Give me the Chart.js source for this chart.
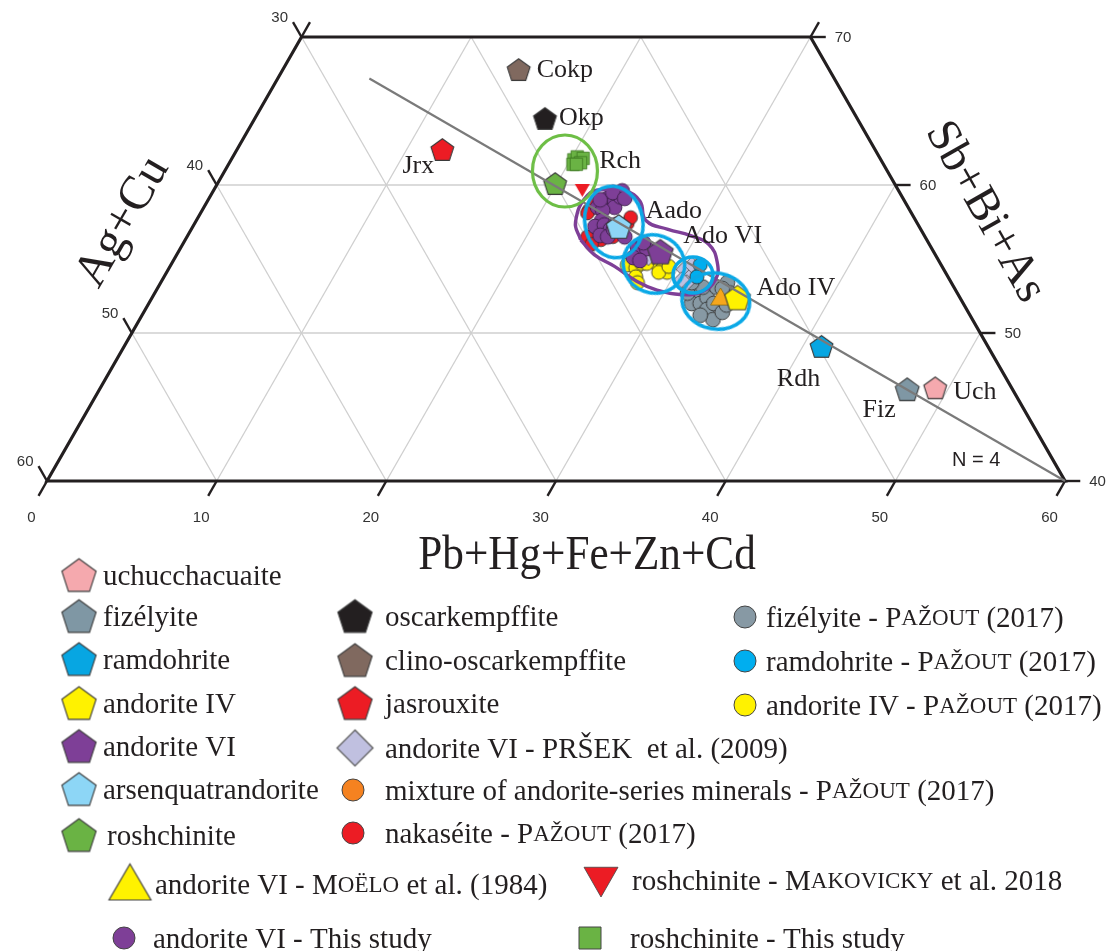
<!DOCTYPE html>
<html><head><meta charset="utf-8">
<script src="https://cdn.jsdelivr.net/npm/chart.js@4.4.1/dist/chart.umd.min.js"></script>
<style>html,body{margin:0;padding:0;background:#fff;}canvas{display:block;}</style>
</head><body>
<canvas id="c" width="1118" height="951"></canvas>
<script>
// ---- DATA: ternary points as [Pb+Hg+Fe+Zn+Cd, Sb+Bi+As]; Ag+Cu = 100 - both ----
const bottomTicks = [0, 10, 20, 30, 40, 50, 60];   // Pb+Hg+Fe+Zn+Cd
const leftTicks   = [30, 40, 50, 60];               // Ag+Cu
const rightTicks  = [70, 60, 50, 40];               // Sb+Bi+As
const gridC = [10, 20, 30, 40, 50];
const gridA = [10, 20, 30, 40, 50];
const gridB = [50, 60];

const uchucchacuaite      = [[49.2, 46.3]];
const fizelyite           = [[47.6, 46.2]];
const ramdohrite          = [[41.1, 49.1]];
const andoriteIV          = [[34.5, 52.4]];
const andoriteVI          = [[28.4, 55.5]];
const arsenquatrandorite  = [[25.1, 57.2]];
const roshchinite         = [[19.9, 60.1]];
const oscarkempffite      = [[17.1, 64.5]];
const clinoOscarkempffite = [[13.9, 67.8]];
const jasrouxite          = [[12.1, 62.4]];

const andoriteVI_Prsek = [[27.9, 55.1], [30.4, 54.3], [31.0, 53.8], [31.0, 53.4], [30.7, 54.6], [30.6, 53.6]];
const mixture_Pazout = [];
const nakaseite_Pazout = [[22.8, 58.3], [23.0, 58.7], [23.6, 56.5], [24.5, 56.3], [25.1, 56.5], [25.5, 57.4], [25.5, 57.8], [22.8, 58.1], [24.1, 56.0]];
const fizelyite_Pazout = [[32.0, 52.7], [32.0, 52.0], [32.5, 52.0], [32.7, 52.4], [33.1, 51.6], [33.3, 52.0], [32.9, 53.1], [33.4, 53.4], [33.9, 52.7], [33.8, 50.9], [32.9, 51.2], [34.1, 51.4], [31.4, 52.7], [33.3, 53.0], [34.1, 51.9], [32.1, 53.1], [31.3, 53.4]];
const ramdohrite_Pazout = [[31.2, 54.6], [31.4, 53.8]];
const andoriteIV_Pazout = [[26.9, 54.6], [27.5, 54.4], [27.7, 54.7], [27.8, 53.8], [28.1, 53.4], [28.7, 54.6], [29.1, 54.4], [29.5, 54.1], [29.0, 54.1], [29.4, 54.5], [28.0, 54.7]];
const andoriteVI_Moelo = [[33.5, 52.4]];
const roshchinite_Makovicky = [[21.7, 59.7]];
const andoriteVI_thisStudy = [[23.2, 58.5], [23.5, 59.1], [24.0, 58.9], [24.2, 58.5], [23.6, 58.3], [23.9, 57.6], [23.7, 57.2], [24.2, 57.3], [24.7, 57.0], [24.3, 56.6], [24.8, 56.5], [24.9, 57.0], [25.8, 56.5], [26.9, 55.8], [27.2, 55.4], [27.5, 55.7], [27.0, 55.1], [27.5, 54.9], [27.1, 56.1], [24.2, 59.2], [23.1, 59.0], [24.1, 59.6], [23.6, 59.5], [24.5, 59.1], [24.8, 57.3]];
const roshchinite_thisStudy = [[20.2, 61.7], [20.3, 61.9], [20.7, 61.8], [20.7, 61.5], [20.3, 61.4], [20.5, 61.4]];

const trendLine = [[5.4, 67.2], [60, 40]];
const greenField = [[20.05, 60.95]];
const blueFields = [[24.66, 57.5], [28.44, 54.66], [31.11, 53.92], [33.34, 52.16]];
const purpleField = [[23.3, 56.3], [22.4, 57.5], [22.2, 59.3], [23.0, 59.7], [24.3, 59.6], [25.5, 58.9], [26.5, 57.6], [28.1, 57.0], [29.6, 56.6], [31.0, 56.0], [32.1, 54.8], [32.6, 53.6], [32.2, 52.8], [31.0, 52.6], [29.5, 52.9], [28.0, 53.5], [26.2, 54.5], [24.6, 55.3], [23.3, 56.3]];

// ---- helpers ----
const T = ([c, b]) => ({ x: c + (b - 40) / 2, y: b - 40 });
const SERIF = '"Liberation Serif", "Times New Roman", serif';
const SANS = '"Liberation Sans", Arial, sans-serif';

function mk(shape, r, fill, stroke = '#3a3a3a', lw = 1.1) {
  const s = Math.ceil(2 * r + 2 * lw + 6);
  const cv = document.createElement('canvas'); cv.width = s; cv.height = s;
  const g = cv.getContext('2d'); const c = s / 2;
  g.beginPath();
  if (shape === 'pentagon') {
    const cy = c + r * 0.1;
    for (let i = 0; i < 5; i++) {
      const a = -Math.PI / 2 + i * 2 * Math.PI / 5;
      const px = c + r * Math.cos(a), py = cy + r * Math.sin(a);
      i ? g.lineTo(px, py) : g.moveTo(px, py);
    }
    g.closePath();
  } else if (shape === 'circle') {
    g.arc(c, c, r, 0, Math.PI * 2);
  } else if (shape === 'diamond') {
    g.moveTo(c, c - r); g.lineTo(c + r, c); g.lineTo(c, c + r); g.lineTo(c - r, c); g.closePath();
  } else if (shape === 'triUp') {
    g.moveTo(c, c - r); g.lineTo(c + r * 1.05, c + r * 0.8); g.lineTo(c - r * 1.05, c + r * 0.8); g.closePath();
  } else if (shape === 'triDown') {
    g.moveTo(c, c + r); g.lineTo(c + r * 1.0, c - r * 0.75); g.lineTo(c - r * 1.0, c - r * 0.75); g.closePath();
  } else if (shape === 'square') {
    g.rect(c - r, c - r, 2 * r, 2 * r);
  }
  g.fillStyle = fill; g.fill();
  if (lw > 0) { g.lineWidth = lw; g.strokeStyle = stroke; g.stroke(); }
  return cv;
}
function ring(rx, ry, color, lw) {
  const w = Math.ceil(2 * Math.max(rx, ry) + lw + 6);
  const cv = document.createElement('canvas'); cv.width = w; cv.height = w;
  const g = cv.getContext('2d');
  g.beginPath(); g.ellipse(w / 2, w / 2, rx, ry, 0, 0, Math.PI * 2);
  g.lineWidth = lw; g.strokeStyle = color; g.stroke();
  return cv;
}

const COL = {
  uch: '#F5A9AE', fiz: '#7F97A4', ram: '#07A6E2', adoIV: '#FFF200', adoVI: '#7E3F97',
  aado: '#8DD6F6', rosh: '#6AB344', okp: '#231F20', cokp: '#80695F', jrx: '#EC1C24',
  prsek: '#C0C0E0', mix: '#F58220', nak: '#EC1C24', fizP: '#8799A4', ramP: '#00AEEF',
  adoIVP: '#FFF200', moelo: '#F7A71B', mak: '#EC1C24', adoVIts: '#7E3F97', roshts: '#6AB344'
};

function ds(label, arr, style, order) {
  return { label, data: arr.map(T), pointStyle: style, pointRadius: 6, pointHoverRadius: 6,
           showLine: false, order, clip: false };
}

const BLUE = '#0AA8E6';
const datasets = [
  // fields
  { label: 'green field', data: greenField.map(T), pointStyle: ring(32.5, 36, '#6DBE45', 3.2), pointRadius: 30, showLine: false, order: 0, clip: false },
  { label: 'blue1', data: [T(blueFields[0])], pointStyle: ring(29, 36, BLUE, 3.6), pointRadius: 30, rotation: -10, showLine: false, order: 0, clip: false },
  { label: 'blue2', data: [T(blueFields[1])], pointStyle: ring(31, 29, BLUE, 3.6), pointRadius: 30, rotation: 20, showLine: false, order: 0, clip: false },
  { label: 'blue3', data: [T(blueFields[2])], pointStyle: ring(20, 18, BLUE, 3.6), pointRadius: 20, showLine: false, order: 0, clip: false },
  { label: 'blue4', data: [T(blueFields[3])], pointStyle: ring(34, 28, BLUE, 3.6), pointRadius: 30, rotation: 10, showLine: false, order: 0, clip: false },
  { label: 'purple field', data: purpleField.map(T), showLine: true, tension: 0.45, borderColor: '#7E3F97', borderWidth: 3.4, pointRadius: 0, fill: false, order: 1, clip: false },
  { label: 'trend', data: trendLine.map(T), showLine: true, borderColor: '#7a7a7a', borderWidth: 2.2, pointRadius: 0, fill: false, order: 2, clip: false },
  // point data
  ds('uchucchacuaite', uchucchacuaite, mk('pentagon', 12, COL.uch), 3),
  ds('fizélyite', fizelyite, mk('pentagon', 12.5, COL.fiz), 3),
  ds('ramdohrite', ramdohrite, mk('pentagon', 12, COL.ram), 3),
  ds('andorite IV', andoriteIV, mk('pentagon', 13.5, COL.adoIV), 3),
  ds('andorite VI', andoriteVI, mk('pentagon', 13.5, COL.adoVI), 3),
  ds('arsenquatrandorite', arsenquatrandorite, mk('pentagon', 13, COL.aado), 3),
  ds('roshchinite', roshchinite, mk('pentagon', 12, COL.rosh), 3),
  ds('oscarkempffite', oscarkempffite, mk('pentagon', 12, COL.okp), 3),
  ds('clino-oscarkempffite', clinoOscarkempffite, mk('pentagon', 12, COL.cokp), 3),
  ds('jasrouxite', jasrouxite, mk('pentagon', 12, COL.jrx), 3),
  ds('andorite VI - Moëlo', andoriteVI_Moelo, mk('triUp', 9.5, COL.moelo, '#8a6a10', 0.8), 4),
  ds('roshchinite - Makovicky', roshchinite_Makovicky, mk('triDown', 7.5, COL.mak, '#c01010', 0), 4),
  ds('andorite VI - This study', andoriteVI_thisStudy, mk('circle', 7.4, COL.adoVIts, '#3d1f4a', 0.9), 5),
  ds('roshchinite - This study', roshchinite_thisStudy, mk('square', 6.2, COL.roshts, '#3f7a24', 0.9), 5),
  ds('ramdohrite - Pažout', ramdohrite_Pazout, mk('circle', 7, COL.ramP, '#333', 0.9), 6),
  ds('andorite VI - Pršek', andoriteVI_Prsek, mk('diamond', 8, COL.prsek, '#555', 0.9), 6),
  ds('nakaséite - Pažout', nakaseite_Pazout, mk('circle', 6.8, COL.nak, '#333', 0.9), 7),
  ds('mixture - Pažout', mixture_Pazout, mk('circle', 6.8, COL.mix, '#333', 0.9), 7),
  ds('andorite IV - Pažout', andoriteIV_Pazout, mk('circle', 7, COL.adoIVP, '#333', 0.9), 7),
  ds('fizélyite - Pažout', fizelyite_Pazout, mk('circle', 7.4, COL.fizP, '#333', 0.9), 8)
];

// in-chart label texts and their placement relative to the marker
const chartLabels = [
  { text: 'Cokp', at: clinoOscarkempffite[0], dx: 18, dy: 1, align: 'left' },
  { text: 'Okp', at: oscarkempffite[0], dx: 14, dy: 0, align: 'left' },
  { text: 'Jrx', at: jasrouxite[0], dx: -24, dy: 17, align: 'center' },
  { text: 'Rch', at: roshchinite_thisStudy[1], dx: 22, dy: 4, align: 'left' },
  { text: 'Aado', at: arsenquatrandorite[0], dx: 27, dy: -15, align: 'left' },
  { text: 'Ado VI', at: andoriteVI[0], dx: 23, dy: -15, align: 'left' },
  { text: 'Ado IV', at: andoriteIV[0], dx: 19, dy: -9, align: 'left' },
  { text: 'Rdh', at: ramdohrite[0], dx: -23, dy: 33, align: 'center' },
  { text: 'Fiz', at: fizelyite[0], dx: -28, dy: 21, align: 'center' },
  { text: 'Uch', at: uchucchacuaite[0], dx: 18, dy: 4, align: 'left' }
];

const legendItems = [
  { m: mk('pentagon', 18, COL.uch), mx: 79, y: 575, tx: 103, t: 'uchucchacuaite' },
  { m: mk('pentagon', 18, COL.fiz), mx: 79, y: 616, tx: 103, t: 'fizélyite' },
  { m: mk('pentagon', 18, COL.ram), mx: 79, y: 659, tx: 103, t: 'ramdohrite' },
  { m: mk('pentagon', 18, COL.adoIV), mx: 79, y: 703, tx: 103, t: 'andorite IV' },
  { m: mk('pentagon', 18, COL.adoVI), mx: 79, y: 746, tx: 103, t: 'andorite VI' },
  { m: mk('pentagon', 18, COL.aado), mx: 79, y: 789, tx: 103, t: 'arsenquatrandorite' },
  { m: mk('pentagon', 18, COL.rosh), mx: 79, y: 835, tx: 107, t: 'roshchinite' },
  { m: mk('pentagon', 18, COL.okp), mx: 355, y: 616, tx: 385, t: 'oscarkempffite' },
  { m: mk('pentagon', 18, COL.cokp), mx: 355, y: 660, tx: 385, t: 'clino-oscarkempffite' },
  { m: mk('pentagon', 18, COL.jrx), mx: 355, y: 703, tx: 385, t: 'jasrouxite' },
  { m: mk('diamond', 18, COL.prsek, '#555', 1.2), mx: 355, y: 748, tx: 385, t: 'andorite VI - PRŠEK  et al. (2009)' },
  { m: mk('circle', 11, COL.mix, '#444', 1), mx: 353, y: 790, tx: 385, t: 'mixture of andorite-series minerals - P{AŽOUT} (2017)' },
  { m: mk('circle', 11, COL.nak, '#444', 1), mx: 353, y: 833, tx: 385, t: 'nakaséite - P{AŽOUT} (2017)' },
  { m: mk('circle', 11, COL.fizP, '#444', 1), mx: 745, y: 617, tx: 766, t: 'fizélyite - P{AŽOUT} (2017)' },
  { m: mk('circle', 11, COL.ramP, '#444', 1), mx: 745, y: 661, tx: 766, t: 'ramdohrite - P{AŽOUT} (2017)' },
  { m: mk('circle', 11, COL.adoIVP, '#444', 1), mx: 745, y: 705, tx: 766, t: 'andorite IV - P{AŽOUT} (2017)' },
  { m: mk('triUp', 20, '#FFF200', '#444', 1.2), mx: 130, y: 884, tx: 155, t: 'andorite VI - M{OËLO} et al. (1984)' },
  { m: mk('triDown', 17, COL.mak, '#444', 0.8), mx: 601, y: 880, tx: 632, t: 'roshchinite - M{AKOVICKY} et al. 2018' },
  { m: mk('circle', 11, COL.adoVIts, '#444', 1), mx: 124, y: 938, tx: 153, t: 'andorite VI - This study' },
  { m: mk('square', 11, COL.roshts, '#444', 1), mx: 590, y: 938, tx: 630, t: 'roshchinite - This study' }
];

function richText(g, str, x, y, size) {
  const parts = str.split(/(\{[^}]*\})/);
  for (const p of parts) {
    if (!p) continue;
    const sc = p.startsWith('{');
    const txt = sc ? p.slice(1, -1) : p;
    g.font = `${sc ? Math.round(size * 0.8) : size}px ${SERIF}`;
    g.fillText(txt, x, y);
    x += g.measureText(txt).width;
  }
}

const ternaryPlugin = {
  id: 'ternary',
  beforeDatasetsDraw(chart) {
    const g = chart.ctx, sx = chart.scales.x, sy = chart.scales.y;
    const P = (c, b) => [sx.getPixelForValue(c + (b - 40) / 2), sy.getPixelForValue(b - 40)];
    const seg = (p, q, color, w) => { g.beginPath(); g.moveTo(p[0], p[1]); g.lineTo(q[0], q[1]); g.strokeStyle = color; g.lineWidth = w; g.stroke(); };
    g.save();
    g.lineCap = 'butt';
    const gc = '#cfcfcf';
    gridB.forEach(b => seg(P(0, b), P(100 - b, b), gc, 1.3));
    gridC.forEach(c => seg(P(c, 40), P(c, Math.min(70, 100 - c)), gc, 1.3));
    gridA.forEach(a => { const bt = Math.min(70, 100 - a); seg(P(60 - a, 40), P(100 - a - bt, bt), gc, 1.3); });
    g.beginPath();
    [[0, 40], [0, 70], [30, 70], [60, 40]].forEach((v, i) => { const p = P(v[0], v[1]); i ? g.lineTo(p[0], p[1]) : g.moveTo(p[0], p[1]); });
    g.closePath(); g.strokeStyle = '#231F20'; g.lineWidth = 3.2; g.lineJoin = 'miter'; g.stroke();
    g.fillStyle = '#333'; g.font = `15px ${SANS}`;
    g.textBaseline = 'middle';
    bottomTicks.forEach(c => {
      const p = P(c, 40), q = P(c, 39);
      seg(p, q, '#231F20', 2.4);
      g.textAlign = 'center'; g.fillText(String(c), q[0] - 7, p[1] + 37);
    });
    leftTicks.forEach(a => {
      const b = 100 - a; const p = P(0, b), q = P(-1, b + 1);
      seg(p, q, '#231F20', 2.4);
      g.textAlign = 'right'; g.fillText(String(a), q[0] - 5, q[1] - 4);
    });
    rightTicks.forEach(b => {
      const p = P(100 - b, b), q = P(100 - b + 0.9, b);
      seg(p, q, '#231F20', 2.4);
      g.textAlign = 'left'; g.fillText(String(b), q[0] + 9, p[1] + 1);
    });
    seg(P(0, 70), P(0, 71), '#231F20', 2.4);
    seg(P(30, 70), P(30, 71), '#231F20', 2.4);
    g.restore();
  },
  afterDatasetsDraw(chart) {
    const g = chart.ctx, sx = chart.scales.x, sy = chart.scales.y, A = chart.chartArea;
    const P = (c, b) => [sx.getPixelForValue(c + (b - 40) / 2), sy.getPixelForValue(b - 40)];
    g.save();
    g.fillStyle = '#231F20'; g.textBaseline = 'middle';
    g.font = `26px ${SERIF}`;
    chartLabels.forEach(l => {
      const p = P(l.at[0], l.at[1]);
      g.textAlign = l.align; g.fillText(l.text, p[0] + l.dx, p[1] + l.dy);
    });
    g.font = `20px ${SANS}`; g.textAlign = 'left';
    g.fillText('N = 4', A.right - 113, A.bottom - 21);
    g.textAlign = 'center';
    g.save(); g.translate(123, 222); g.rotate(-60 * Math.PI / 180);
    g.font = `48px ${SERIF}`; g.fillText('Ag+Cu', 0, 0); g.restore();
    g.save(); g.translate(985, 212); g.rotate(60.5 * Math.PI / 180);
    g.font = `47px ${SERIF}`; g.fillText('Sb+Bi+As', 0, 0); g.restore();
    g.save(); g.translate(587, 556); g.scale(0.9, 1);
    g.font = `48px ${SERIF}`; g.fillText('Pb+Hg+Fe+Zn+Cd', 0, 0); g.restore();
    g.textAlign = 'left';
    legendItems.forEach(it => {
      g.drawImage(it.m, it.mx - it.m.width / 2, it.y - it.m.height / 2);
      richText(g, it.t, it.tx, it.y + 2, 29);
    });
    g.restore();
  }
};

new Chart(document.getElementById('c'), {
  type: 'scatter',
  data: { datasets },
  options: {
    responsive: false,
    animation: false,
    events: [],
    layout: { padding: { left: 47, right: 53, top: 37, bottom: 470 } },
    scales: {
      x: { type: 'linear', min: 0, max: 60, display: false },
      y: { type: 'linear', min: 0, max: 30, display: false }
    },
    plugins: { legend: { display: false }, tooltip: { enabled: false } }
  },
  plugins: [ternaryPlugin]
});
</script>
</body></html>
